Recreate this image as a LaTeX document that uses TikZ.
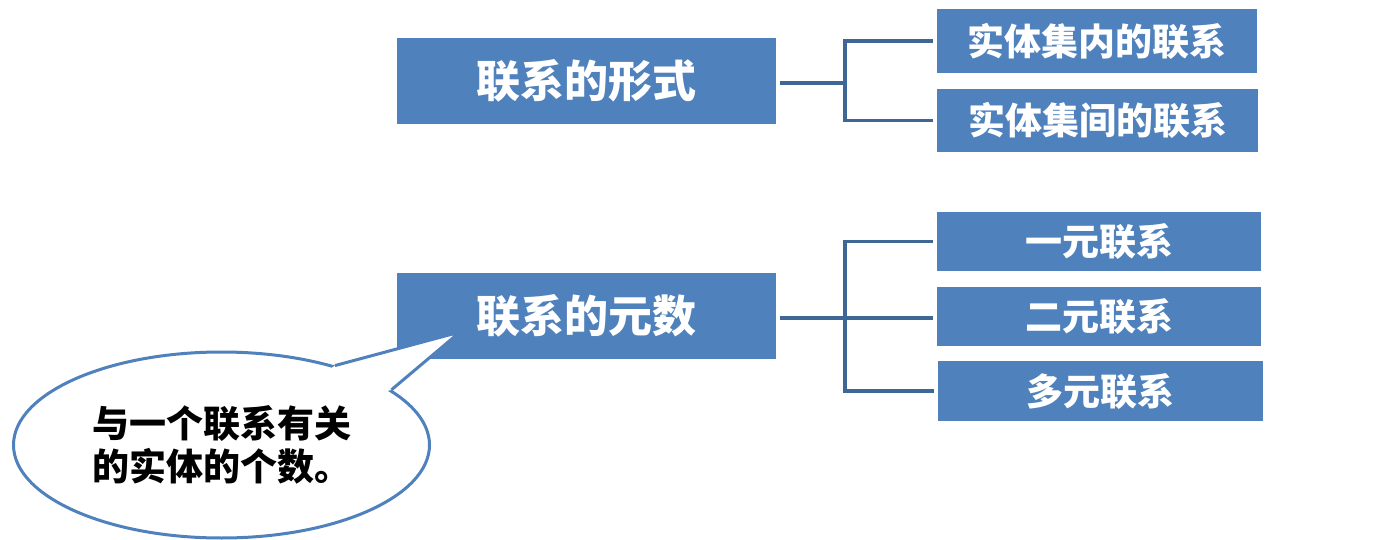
\documentclass[tikz,border=0pt]{standalone}
\usepackage{fontspec}
\newfontfamily\cjk{Noto Sans CJK SC}
\usetikzlibrary{shapes.geometric,calc}
\definecolor{boxblue}{HTML}{4F81BD}
\definecolor{lineblue}{HTML}{3E6697}
\tikzset{
  bigbox/.style={fill=boxblue, draw=none, minimum width=379pt, minimum height=86pt, inner sep=0pt,
    text=white, font=\cjk\bfseries\fontsize{44}{48}\selectfont},
  smallbox/.style={fill=boxblue, draw=none, inner sep=0pt,
    text=white, font=\cjk\bfseries\fontsize{37}{40}\selectfont},
  conn/.style={draw=lineblue, line width=3.6pt},
  callstroke/.style={draw=boxblue, line width=3pt, line join=miter},
}
\begin{document}
\begin{tikzpicture}[x=1pt,y=-1pt]
\useasboundingbox[fill=white] (0,0) rectangle (1398,540);
% left boxes
\node[bigbox] (fA) at (586.5,81) {联系的形式};
\node[bigbox] (fB) at (586.5,316) {联系的元数};
% right boxes
\node[smallbox, minimum width=320pt, minimum height=64pt] (r1) at (1097,41) {实体集内的联系};
\node[smallbox, minimum width=321pt, minimum height=63pt] (r2) at (1097.5,120.5) {实体集间的联系};
\node[smallbox, minimum width=324pt, minimum height=59pt] (u1) at (1099,241.5) {一元联系};
\node[smallbox, minimum width=324pt, minimum height=59pt] (u2) at (1099,316.5) {二元联系};
\node[smallbox, minimum width=325pt, minimum height=60pt] (u3) at (1100.5,391) {多元联系};
% brackets
\coordinate (jA) at (845,83);
\coordinate (jB) at (845,318);
\draw[conn] ([xshift=4pt]fA.east |- jA) -- (jA);
\draw[conn] (jA) |- ([xshift=-4pt]r1.west);
\draw[conn] (jA) |- ([xshift=-4pt]r2.west);
\draw[conn] ([xshift=4pt]fB.east |- jB) -- ([xshift=-4pt]u2.west |- jB);
\draw[conn] (jB) |- ([xshift=-4pt]u1.west);
\draw[conn] (jB) |- ([xshift=-4pt]u3.west);
% callout
\node[ellipse, callstroke, fill=white, minimum width=416pt, minimum height=186pt, inner sep=0pt,
      align=left, font=\cjk\bfseries\fontsize{37}{43}\selectfont] (callout) at (221.5,445)
      {与一个联系有关\\的实体的个数。};
\coordinate (tip) at (460,332);
\fill[white] (tip) -- (callout.35) -- ($(callout.35)!5pt!(callout.center)$)
   -- ($(callout.18)!5pt!(callout.center)$) -- (callout.18) -- cycle;
\draw[callstroke] (callout.35) -- (tip) -- (callout.18);
\end{tikzpicture}
\end{document}
